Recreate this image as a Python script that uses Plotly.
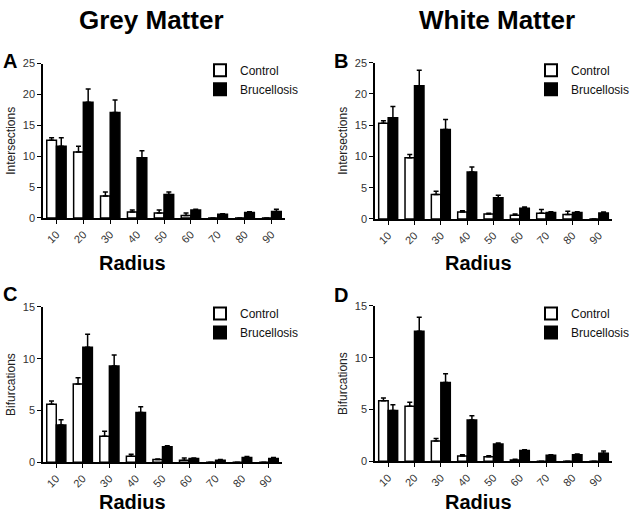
import plotly.graph_objects as go

radius = ["10", "20", "30", "40", "50", "60", "70", "80", "90"]

# Panel A: Grey matter intersections
A_control = [12.6, 10.7, 3.55, 0.95, 0.8, 0.4, 0, 0, 0]
A_control_err = [0.4, 0.9, 0.65, 0.35, 0.5, 0.4, 0, 0, 0]
A_bruc = [11.6, 18.75, 17.1, 9.75, 3.8, 1.3, 0.6, 0.9, 1.05]
A_bruc_err = [1.4, 2.15, 2.0, 1.15, 0.4, 0.1, 0.1, 0.1, 0.35]

# Panel B: White matter intersections
B_control = [15.3, 9.8, 3.9, 1.1, 0.8, 0.6, 0.9, 0.7, 0]
B_control_err = [0.4, 0.5, 0.55, 0.2, 0.1, 0.2, 0.6, 0.55, 0]
B_bruc = [16.2, 21.3, 14.3, 7.5, 3.4, 1.7, 1.05, 1.05, 0.95]
B_bruc_err = [1.8, 2.5, 1.6, 0.8, 0.4, 0.2, 0.1, 0.1, 0.15]

# Panel C: Grey matter bifurcations
C_control = [5.6, 7.55, 2.5, 0.57, 0.25, 0.2, 0, 0, 0]
C_control_err = [0.3, 0.6, 0.5, 0.2, 0.05, 0.2, 0, 0, 0]
C_bruc = [3.6, 11.1, 9.3, 4.8, 1.5, 0.35, 0.2, 0.45, 0.35]
C_bruc_err = [0.5, 1.25, 1.05, 0.55, 0.08, 0.05, 0.05, 0.1, 0.1]

# Panel D: White matter bifurcations
D_control = [5.85, 5.3, 1.95, 0.5, 0.44, 0.13, 0, 0, 0]
D_control_err = [0.25, 0.4, 0.25, 0.13, 0.1, 0.05, 0, 0, 0]
D_bruc = [4.9, 12.55, 7.6, 3.97, 1.67, 1.04, 0.57, 0.63, 0.76]
D_bruc_err = [0.55, 1.35, 0.85, 0.43, 0.09, 0.06, 0.06, 0.06, 0.22]

panels = [
    ("A", A_control, A_control_err, A_bruc, A_bruc_err, "Intersections", 25),
    ("B", B_control, B_control_err, B_bruc, B_bruc_err, "Intersections", 25),
    ("C", C_control, C_control_err, C_bruc, C_bruc_err, "Bifurcations", 15),
    ("D", D_control, D_control_err, D_bruc, D_bruc_err, "Bifurcations", 15),
]

W, H = 640, 519
# pixel boxes (left, right, top, bottom)
boxes = [(43, 285, 59, 217), (375, 612, 58, 218), (43, 282, 308, 467), (375, 612, 307, 466)]
legend_pos = [(200, 51), (531, 51), (200, 300), (531, 300)]

FONT = "Liberation Sans, Arial, sans-serif"
fig = go.Figure()
layout = {}
for i, (letter, ctl, ctl_e, bru, bru_e, ytitle, ymax) in enumerate(panels):
    n = "" if i == 0 else str(i + 1)
    leg = "legend" + n
    fig.add_trace(go.Bar(
        x=radius, y=ctl, name="Control",
        marker=dict(color="white", line=dict(color="black", width=1.5)),
        error_y=dict(type="data", array=ctl_e, arrayminus=[0] * len(ctl_e), symmetric=False,
                     color="black", thickness=1.5, width=2.5),
        xaxis="x" + n, yaxis="y" + n, legend=leg,
    ))
    fig.add_trace(go.Bar(
        x=radius, y=bru, name="Brucellosis",
        marker=dict(color="black", line=dict(color="black", width=1.5)),
        error_y=dict(type="data", array=bru_e, arrayminus=[0] * len(bru_e), symmetric=False,
                     color="black", thickness=1.5, width=2.5),
        xaxis="x" + n, yaxis="y" + n, legend=leg,
    ))
    l, r, t, b = boxes[i]
    layout["xaxis" + n] = dict(
        domain=[l / W, r / W], anchor="y" + n, type="category",
        range=[-0.5, 8.5], showline=True, linecolor="black", linewidth=1.5,
        ticks="outside", ticklen=4, tickwidth=1.2, tickcolor="black",
        tickangle=-45, tickfont=dict(size=11, color="#333", family=FONT),
        showgrid=False, zeroline=False,
    )
    layout["yaxis" + n] = dict(
        domain=[1 - b / H, 1 - t / H], anchor="x" + n,
        range=[0, ymax], dtick=5, showline=True, linecolor="black", linewidth=1.5,
        ticks="outside", ticklen=4, tickwidth=1.2, tickcolor="black",
        tickfont=dict(size=11, color="#333", family=FONT),
        title=dict(text=ytitle, font=dict(size=12, color="#222", family=FONT), standoff=5),
        showgrid=False, zeroline=False,
    )
    lx, ly = legend_pos[i]
    layout[leg] = dict(
        x=lx / W, y=1 - ly / H, xanchor="left", yanchor="top",
        font=dict(size=12, color="#111", family=FONT),
        bgcolor="rgba(0,0,0,0)", tracegroupgap=0, itemsizing="constant",
    )

annotations = [
    dict(text="<b>Grey Matter</b>", x=151 / W, y=1 - 14 / H, font=dict(size=26)),
    dict(text="<b>White Matter</b>", x=497 / W, y=1 - 14 / H, font=dict(size=26)),
    dict(text="<b>A</b>", x=10 / W, y=1 - 56 / H, font=dict(size=20)),
    dict(text="<b>B</b>", x=341 / W, y=1 - 56 / H, font=dict(size=20)),
    dict(text="<b>C</b>", x=10 / W, y=1 - 295 / H, font=dict(size=20)),
    dict(text="<b>D</b>", x=341 / W, y=1 - 296 / H, font=dict(size=20)),
    dict(text="<b>Radius</b>", x=132 / W, y=1 - 263 / H, font=dict(size=20)),
    dict(text="<b>Radius</b>", x=478 / W, y=1 - 263 / H, font=dict(size=20)),
    dict(text="<b>Radius</b>", x=132 / W, y=1 - 508 / H, font=dict(size=20)),
    dict(text="<b>Radius</b>", x=478 / W, y=1 - 508 / H, font=dict(size=20)),
]
for a in annotations:
    a.update(xref="paper", yref="paper", xanchor="center", yanchor="middle", showarrow=False)
    a["font"].update(family=FONT, color="black")

fig.update_layout(
    width=W, height=H, margin=dict(l=0, r=0, t=0, b=0),
    paper_bgcolor="white", plot_bgcolor="white",
    barmode="group", bargap=0.28, bargroupgap=0,
    font=dict(family=FONT),
    annotations=annotations,
    **layout,
)
fig.write_html("out.html", config={"displayModeBar": False},
               post_script="document.body.style.margin='0px';")
